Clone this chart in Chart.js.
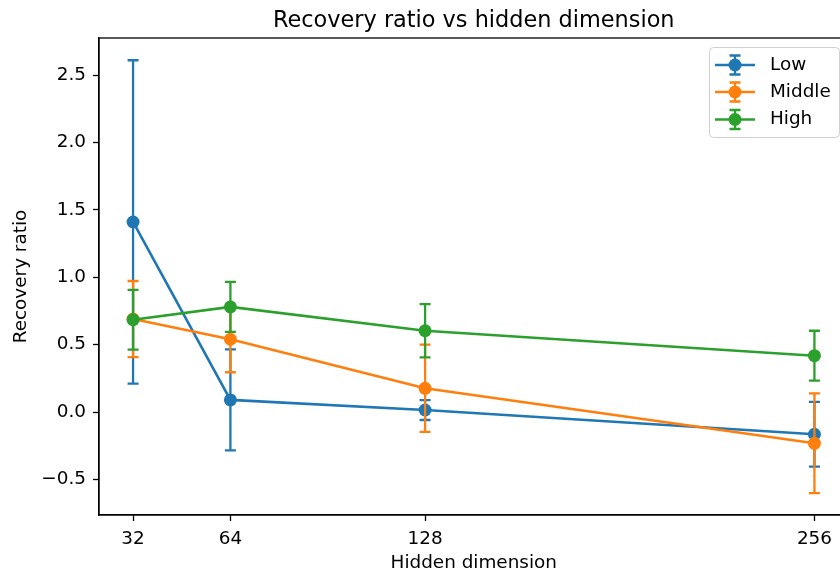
<!DOCTYPE html>
<html>
<head>
<meta charset="utf-8">
<script src="https://cdn.jsdelivr.net/npm/chart.js@4.4.1/dist/chart.umd.min.js"></script>
<style>
  html, body { margin: 0; padding: 0; background: #fff; overflow: hidden; }
</style>
</head>
<body>
<canvas id="myCanvas" width="855" height="571"></canvas>
<script>
// data
var dims = [32, 64, 128, 256];
var seriesNames = ["Low", "Middle", "High"];
var lowMean = [1.41, 0.09, 0.015, -0.165];
var lowErr = [1.2, 0.375, 0.074, 0.24];
var midMean = [0.69, 0.54, 0.176, -0.232];
var midErr = [0.282, 0.245, 0.324, 0.37];
var highMean = [0.685, 0.78, 0.603, 0.418];
var highErr = [0.222, 0.186, 0.198, 0.185];
var yTicks = [-0.5, 0.0, 0.5, 1.0, 1.5, 2.0, 2.5];
var colors = ["#1f77b4", "#ff7f0e", "#2ca02c"];
var chartTitle = "Recovery ratio vs hidden dimension";

var FONT = "'DejaVu Sans', sans-serif";
var means = [lowMean, midMean, highMean];
var errs = [lowErr, midErr, highErr];

function pts(m) {
  return dims.map(function (d, i) { return { x: d, y: m[i] }; });
}

// error bars, drawn just under each dataset's line and markers
var errorBars = {
  id: "errorBars",
  beforeDatasetDraw: function (chart, args) {
    var i = args.index;
    var ctx = chart.ctx;
    var ys = chart.scales.y;
    var xs = chart.scales.x;
    ctx.save();
    ctx.strokeStyle = colors[i];
    ctx.lineWidth = 2.3;
    for (var k = 0; k < dims.length; k++) {
      var px = xs.getPixelForValue(dims[k]);
      var top = ys.getPixelForValue(means[i][k] + errs[i][k]);
      var bot = ys.getPixelForValue(means[i][k] - errs[i][k]);
      ctx.beginPath();
      ctx.moveTo(px, top); ctx.lineTo(px, bot);
      ctx.moveTo(px - 5.5, top); ctx.lineTo(px + 5.5, top);
      ctx.moveTo(px - 5.5, bot); ctx.lineTo(px + 5.5, bot);
      ctx.stroke();
    }
    ctx.restore();
  }
};

// title over the axes, frame, matplotlib style legend
var frameAndLegend = {
  id: "frameAndLegend",
  afterDraw: function (chart) {
    var ctx = chart.ctx;
    var a = chart.chartArea;
    ctx.save();
    ctx.fillStyle = "#000";
    ctx.font = "22.4px " + FONT;
    ctx.textAlign = "center";
    ctx.textBaseline = "alphabetic";
    ctx.fillText(chartTitle, (a.left + a.right) / 2, 27);

    ctx.strokeStyle = "#000";
    ctx.lineWidth = 1.3;
    ctx.strokeRect(a.left, a.top, a.right - a.left, a.bottom - a.top);

    // legend box
    var bx = 709.5, by = 47.5, bw = 130, bh = 90, r = 4;
    ctx.beginPath();
    ctx.moveTo(bx + r, by);
    ctx.lineTo(bx + bw - r, by);
    ctx.arcTo(bx + bw, by, bx + bw, by + r, r);
    ctx.lineTo(bx + bw, by + bh - r);
    ctx.arcTo(bx + bw, by + bh, bx + bw - r, by + bh, r);
    ctx.lineTo(bx + r, by + bh);
    ctx.arcTo(bx, by + bh, bx, by + bh - r, r);
    ctx.lineTo(bx, by + r);
    ctx.arcTo(bx, by, bx + r, by, r);
    ctx.closePath();
    ctx.fillStyle = "rgba(255,255,255,0.8)";
    ctx.fill();
    ctx.strokeStyle = "#d0d0d0";
    ctx.lineWidth = 1;
    ctx.stroke();

    var rows = [65, 92, 119.5];
    for (var i = 0; i < seriesNames.length; i++) {
      var y = rows[i];
      ctx.strokeStyle = colors[i];
      ctx.fillStyle = colors[i];
      ctx.lineWidth = 2.6;
      ctx.beginPath();
      ctx.moveTo(715, y); ctx.lineTo(755, y);
      ctx.stroke();
      ctx.lineWidth = 2.3;
      ctx.beginPath();
      ctx.moveTo(735, y - 9.5); ctx.lineTo(735, y + 9.5);
      ctx.moveTo(729.5, y - 9.5); ctx.lineTo(740.5, y - 9.5);
      ctx.moveTo(729.5, y + 9.5); ctx.lineTo(740.5, y + 9.5);
      ctx.stroke();
      ctx.beginPath();
      ctx.arc(735, y, 6.5, 0, Math.PI * 2);
      ctx.fill();
      ctx.fillStyle = "#000";
      ctx.font = "18.4px " + FONT;
      ctx.textAlign = "left";
      ctx.textBaseline = "middle";
      ctx.fillText(seriesNames[i], 770, y);
    }
    ctx.restore();
  }
};

var c = document.getElementById("myCanvas");
var ctx = c.getContext("2d");

const errChart = new Chart(ctx, {
  type: "line",
  data: {
    datasets: seriesNames.map(function (name, i) {
      return {
        label: name,
        data: pts(means[i]),
        borderColor: colors[i],
        backgroundColor: colors[i],
        borderWidth: 2.6,
        pointRadius: 6.5,
        pointBorderWidth: 0,
        pointHoverRadius: 6.5,
        fill: false,
        tension: 0,
        order: 3 - i
      };
    })
  },
  options: {
    responsive: false,
    devicePixelRatio: 1,
    animation: false,
    events: [],
    layout: { padding: { left: 0, right: 1, top: 38, bottom: 0 } },
    plugins: {
      legend: { display: false },
      tooltip: { enabled: false },
      title: { display: false }
    },
    scales: {
      x: {
        type: "linear",
        min: 20.8,
        max: 267.2,
        afterBuildTicks: function (s) { s.ticks = dims.map(function (v) { return { value: v }; }); },
        afterFit: function (s) { s.height = 56; s.paddingLeft = 0; s.paddingRight = 0; },
        ticks: {
          color: "#000",
          font: { family: FONT, size: 18.4 },
          padding: 7,
          maxRotation: 0,
          autoSkip: false,
          callback: function (v) { return String(v); }
        },
        grid: { drawOnChartArea: false, tickLength: 6, tickColor: "#000", tickWidth: 1.3 },
        border: { display: true, color: "#000", width: 1.3 },
        title: {
          display: true,
          text: "Hidden dimension",
          color: "#000",
          font: { family: FONT, size: 18.4, lineHeight: 0.8 },
          padding: { top: 0, bottom: 0 }
        }
      },
      y: {
        type: "linear",
        min: -0.764,
        max: 2.775,
        afterBuildTicks: function (s) { s.ticks = yTicks.map(function (v) { return { value: v }; }); },
        afterFit: function (s) { s.width = 99; s.paddingTop = 0; s.paddingBottom = 0; },
        ticks: {
          color: "#000",
          font: { family: FONT, size: 18.4 },
          padding: 7,
          callback: function (v) { return v.toFixed(1).replace("-", "\u2212"); }
        },
        grid: { drawOnChartArea: false, tickLength: 6, tickColor: "#000", tickWidth: 1.3 },
        border: { display: true, color: "#000", width: 1.3 },
        title: {
          display: true,
          text: "Recovery ratio",
          color: "#000",
          font: { family: FONT, size: 18.4, lineHeight: 1.0 },
          padding: { top: 12, bottom: 0 }
        }
      }
    }
  },
  plugins: [errorBars, frameAndLegend]
});
</script>
</body>
</html>
